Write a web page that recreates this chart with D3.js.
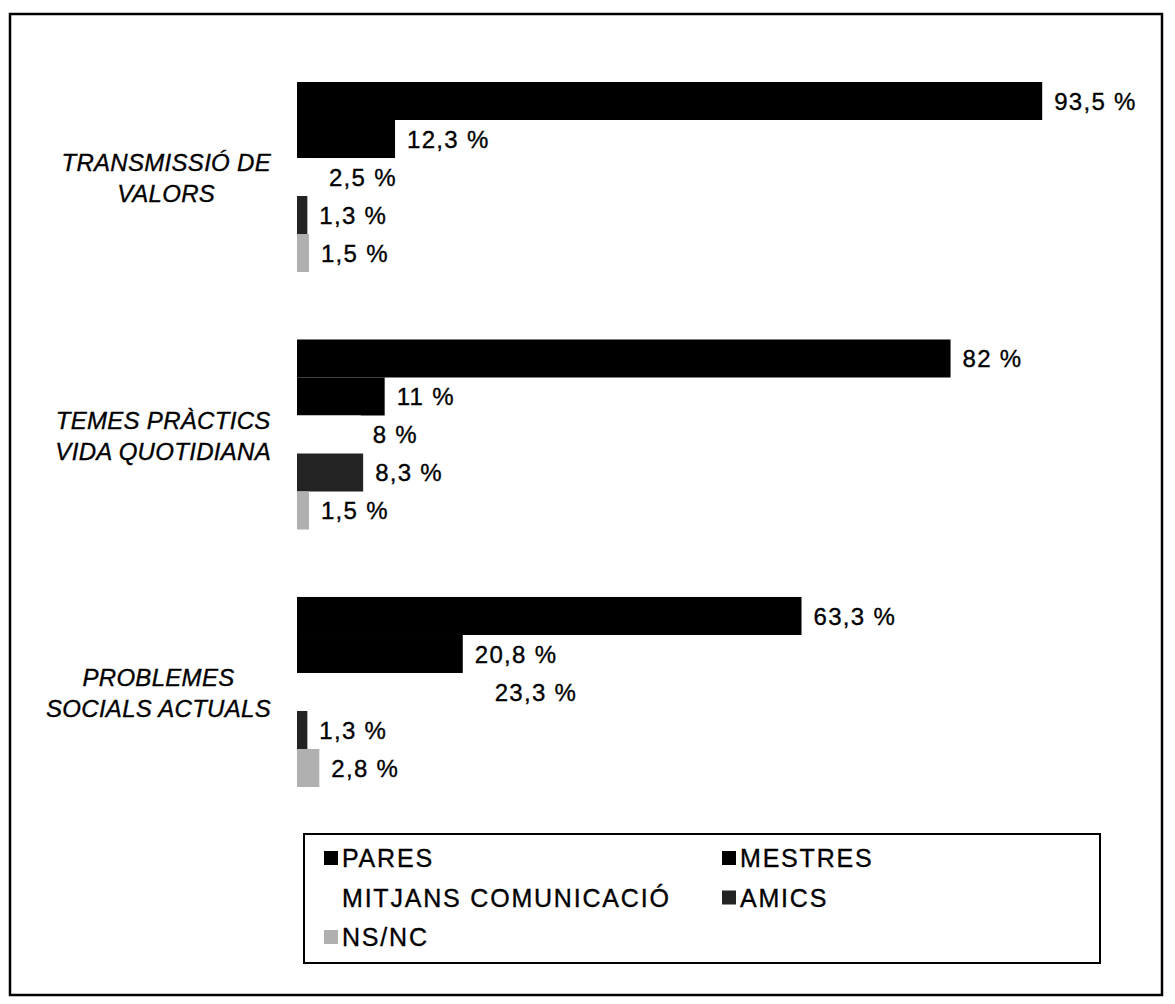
<!DOCTYPE html>
<html>
<head>
<meta charset="utf-8">
<script src="https://cdn.jsdelivr.net/npm/d3@7"></script>
<style>
  body { margin: 0; background: #fff; }
  text { font-family: "Liberation Sans", Arial, sans-serif; fill: #000; stroke: #000; stroke-width: 0.35px; }
</style>
</head>
<body>
<div id="chart"></div>
<script>
    // categories (split in two lines like the original)
    const categories = ['TRANSMISSIÓ DE VALORS', 'TEMES PRÀCTICS VIDA QUOTIDIANA', 'PROBLEMES SOCIALS ACTUALS'];
    const categoryLines = [['TRANSMISSIÓ DE', 'VALORS'], ['TEMES PRÀCTICS', 'VIDA QUOTIDIANA'], ['PROBLEMES', 'SOCIALS ACTUALS']];
    const series = ['PARES', 'MESTRES', 'MITJANS COMUNICACIÓ', 'AMICS', 'NS/NC'];

    const pares = [93.5, 82, 63.3];
    const mestres = [12.3, 11, 20.8];
    const mitjans = [2.5, 8, 23.3];
    const amics = [1.3, 8.3, 1.3];
    const nsnc = [1.5, 1.5, 2.8];

    const values = [pares, mestres, mitjans, amics, nsnc];
    const colors = ['#000', '#000', '#fff', '#232323', '#b0b0b0'];

    const width = 1175, height = 1004;

    const svg = d3.select('#chart').append('svg')
      .attr('width', width)
      .attr('height', height);

    // outer frame
    svg.append('rect')
      .attr('x', 10).attr('y', 14)
      .attr('width', 1152).attr('height', 981)
      .attr('fill', 'none').attr('stroke', '#000').attr('stroke-width', 2.5);

    const x = d3.scaleLinear().domain([0, 100]).range([297, 1094]);

    const y0 = d3.scaleBand()
      .domain(categories)
      .range([82, 787])
      .paddingInner(0.262)
      .paddingOuter(0);

    const y1 = d3.scaleBand()
      .domain(series)
      .range([0, y0.bandwidth()]);

    const fmt = v => String(v).replace('.', ',') + ' %';

    const rows = [];
    categories.forEach((c, i) => {
      series.forEach((s, j) => rows.push({ cat: c, ser: s, value: values[j][i], color: colors[j] }));
    });

    const g = svg.append('g');

    g.selectAll('rect.bar')
      .data(rows)
      .join('rect')
      .attr('class', 'bar')
      .attr('x', x(0))
      .attr('y', d => y0(d.cat) + y1(d.ser))
      .attr('width', d => x(d.value) - x(0))
      .attr('height', y1.bandwidth())
      .attr('fill', d => d.color);

    g.selectAll('text.val')
      .data(rows)
      .join('text')
      .attr('class', 'val')
      .attr('x', d => x(d.value) + 12)
      .attr('y', d => y0(d.cat) + y1(d.ser) + y1.bandwidth() / 2)
      .attr('dy', '0.36em')
      .style('font-size', '24px')
      .style('letter-spacing', '1.3px')
      .text(d => fmt(d.value));

    // category labels: lines centred, block right aligned
    const labels = g.selectAll('g.cat')
      .data(categories)
      .join('g')
      .attr('class', 'cat');

    labels.each(function (c, i) {
      const el = d3.select(this);
      const lines = categoryLines[i];
      const mid = y0(c) + y0.bandwidth() / 2 + 1;
      const texts = lines.map((l, k) => el.append('text')
        .attr('y', mid + (k - (lines.length - 1) / 2) * 31)
        .attr('dy', '0.36em')
        .attr('text-anchor', 'middle')
        .style('font-size', '24px')
        .style('font-style', 'italic')
        .style('letter-spacing', '0.3px')
        .text(l));
      const maxW = d3.max(texts, t => t.node().getComputedTextLength());
      texts.forEach(t => t.attr('x', 271 - maxW / 2));
    });

    // legend
    const legend = svg.append('g').attr('transform', 'translate(304,834)');
    legend.append('rect')
      .attr('width', 796).attr('height', 129)
      .attr('fill', '#fff').attr('stroke', '#000').attr('stroke-width', 2);

    const item = legend.selectAll('g.item')
      .data(series)
      .join('g')
      .attr('class', 'item')
      .attr('transform', (d, i) => `translate(${i % 2 ? 418 : 20},${24 + Math.floor(i / 2) * 39.5})`);

    item.append('rect')
      .attr('x', 0).attr('y', -7)
      .attr('width', 14).attr('height', 14)
      .attr('fill', (d, i) => colors[i]);

    item.append('text')
      .attr('x', 18)
      .attr('dy', '0.36em')
      .style('font-size', '25px')
      .style('letter-spacing', '1.8px')
      .text(d => d);
</script>
</body>
</html>
